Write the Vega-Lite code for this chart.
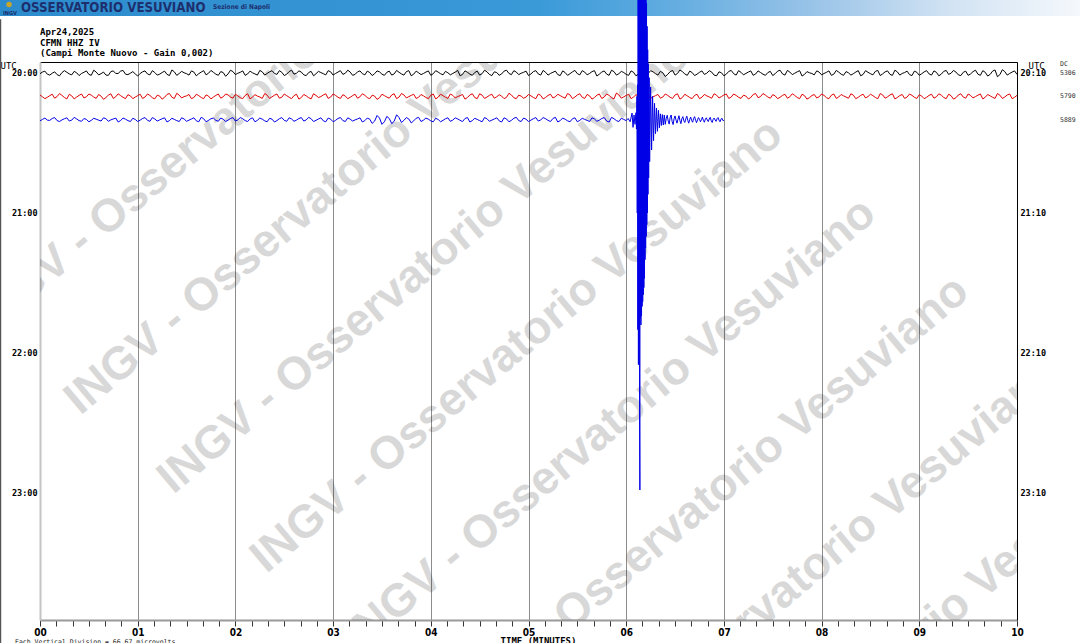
{
"$schema":"https://vega.github.io/schema/vega-lite/v6.json",
"width":977,"height":558,
"autosize":{"type":"none"},
"padding":{"left":40,"top":62,"right":63,"bottom":23},
"background":"#ffffff",
"config":{"view":{"stroke":null}},
"resolve":{"axis":{"x":"independent","y":"independent"}},
"datasets":{
"k":[{"t":0,"y":0.3},{"t":0.025,"y":-0.4},{"t":0.05,"y":-0.8},{"t":0.075,"y":0.5},{"t":0.1,"y":0.9},{"t":0.125,"y":0.1},{"t":0.15,"y":-0.5},{"t":0.175,"y":0.7},{"t":0.2,"y":1.2},{"t":0.225,"y":-0.2},{"t":0.25,"y":-1.0},{"t":0.275,"y":-0.3},{"t":0.3,"y":0.4},{"t":0.325,"y":0.8},{"t":0.35,"y":-0.7},{"t":0.375,"y":-0.1},{"t":0.4,"y":1.1},{"t":0.425,"y":0.2},{"t":0.45,"y":-0.3},{"t":0.475,"y":-0.9},{"t":0.5,"y":0.6},{"t":0.525,"y":1.0},{"t":0.55,"y":-1.2},{"t":0.575,"y":-0.4},{"t":0.6,"y":0.8},{"t":0.625,"y":0.3},{"t":0.65,"y":-0.4},{"t":0.675,"y":0.9},{"t":0.7,"y":1.0},{"t":0.725,"y":-0.6},{"t":0.75,"y":-0.9},{"t":0.775,"y":0.2},{"t":0.8,"y":0.2},{"t":0.825,"y":-0.8},{"t":0.85,"y":-1.1},{"t":0.875,"y":0.5},{"t":0.9,"y":0.7},{"t":0.925,"y":0.1},{"t":0.95,"y":-0.6},{"t":0.975,"y":0.4},
{"t":1,"y":1.3},{"t":1.025,"y":0.2},{"t":1.05,"y":-0.5},{"t":1.075,"y":-0.9},{"t":1.1,"y":0.4},{"t":1.125,"y":0.8},{"t":1.15,"y":-1.0},{"t":1.175,"y":-0.2},{"t":1.2,"y":0.9},{"t":1.225,"y":0.5},{"t":1.25,"y":-0.2},{"t":1.275,"y":-0.8},{"t":1.3,"y":0.6},{"t":1.325,"y":1.1},{"t":1.35,"y":-1.3},{"t":1.375,"y":-0.5},{"t":1.4,"y":1.0},{"t":1.425,"y":0.2},{"t":1.45,"y":-0.7},{"t":1.475,"y":-0.1},{"t":1.5,"y":0.3},{"t":1.525,"y":0.9},{"t":1.55,"y":-0.9},{"t":1.575,"y":-0.4},{"t":1.6,"y":1.2},{"t":1.625,"y":0.3},{"t":1.65,"y":-0.4},{"t":1.675,"y":-1.0},{"t":1.7,"y":0.8},{"t":1.725,"y":0.1},{"t":1.75,"y":-1.1},{"t":1.775,"y":-0.3},{"t":1.8,"y":0.5},{"t":1.825,"y":1.0},{"t":1.85,"y":-0.6},{"t":1.875,"y":-0.2},{"t":1.9,"y":1.4},{"t":1.925,"y":0.4},{"t":1.95,"y":-1.2},{"t":1.975,"y":-0.6},
{"t":2,"y":0.7},{"t":2.025,"y":0.1},{"t":2.05,"y":-0.3},{"t":2.075,"y":-0.9},{"t":2.1,"y":1.0},{"t":2.125,"y":0.4},{"t":2.15,"y":-0.8},{"t":2.175,"y":-0.1},{"t":2.2,"y":0.4},{"t":2.225,"y":0.9},{"t":2.25,"y":-1.1},{"t":2.275,"y":-0.5},{"t":2.3,"y":0.9},{"t":2.325,"y":0.2},{"t":2.35,"y":-0.5},{"t":2.375,"y":-1.0},{"t":2.4,"y":0.2},{"t":2.425,"y":0.6},{"t":2.45,"y":-1.0},{"t":2.475,"y":-0.3},{"t":2.5,"y":1.1},{"t":2.525,"y":0.5},{"t":2.55,"y":-0.6},{"t":2.575,"y":-1.2},{"t":2.6,"y":0.5},{"t":2.625,"y":0.1},{"t":2.65,"y":-0.9},{"t":2.675,"y":-0.4},{"t":2.7,"y":0.8},{"t":2.725,"y":1.1},{"t":2.75,"y":-0.2},{"t":2.775,"y":-0.7},{"t":2.8,"y":1.2},{"t":2.825,"y":0.3},{"t":2.85,"y":-0.7},{"t":2.875,"y":-0.2},{"t":2.9,"y":0.3},{"t":2.925,"y":0.8},{"t":2.95,"y":-1.0},{"t":2.975,"y":-0.5},
{"t":3,"y":0.9},{"t":3.025,"y":0.2},{"t":3.05,"y":-0.4},{"t":3.075,"y":-1.0},{"t":3.1,"y":0.6},{"t":3.125,"y":0.1},{"t":3.15,"y":-1.2},{"t":3.175,"y":-0.4},{"t":3.2,"y":1.0},{"t":3.225,"y":0.6},{"t":3.25,"y":-0.5},{"t":3.275,"y":-0.9},{"t":3.3,"y":0.3},{"t":3.325,"y":0.8},{"t":3.35,"y":-0.8},{"t":3.375,"y":-0.2},{"t":3.4,"y":1.1},{"t":3.425,"y":0.3},{"t":3.45,"y":-0.9},{"t":3.475,"y":-0.5},{"t":3.5,"y":0.5},{"t":3.525,"y":1.0},{"t":3.55,"y":-0.3},{"t":3.575,"y":-0.8},{"t":3.6,"y":0.9},{"t":3.625,"y":0.4},{"t":3.65,"y":-1.1},{"t":3.675,"y":-0.3},{"t":3.7,"y":0.4},{"t":3.725,"y":0.9},{"t":3.75,"y":-0.6},{"t":3.775,"y":-1.0},{"t":3.8,"y":1.2},{"t":3.825,"y":0.5},{"t":3.85,"y":-0.8},{"t":3.875,"y":-0.1},{"t":3.9,"y":0.7},{"t":3.925,"y":0.2},{"t":3.95,"y":-0.4},{"t":3.975,"y":-0.9},
{"t":4,"y":1.0},{"t":4.025,"y":0.3},{"t":4.05,"y":-1.0},{"t":4.075,"y":-0.4},{"t":4.1,"y":0.3},{"t":4.125,"y":0.8},{"t":4.15,"y":-0.7},{"t":4.175,"y":-0.1},{"t":4.2,"y":0.8},{"t":4.225,"y":0.2},{"t":4.25,"y":-0.4},{"t":4.275,"y":-1.1},{"t":4.3,"y":1.2},{"t":4.325,"y":0.6},{"t":4.35,"y":-0.9},{"t":4.375,"y":-0.3},{"t":4.4,"y":0.5},{"t":4.425,"y":1.0},{"t":4.45,"y":-0.2},{"t":4.475,"y":-0.8},{"t":4.5,"y":0.9},{"t":4.525,"y":0.3},{"t":4.55,"y":-1.2},{"t":4.575,"y":-0.5},{"t":4.6,"y":0.6},{"t":4.625,"y":1.1},{"t":4.65,"y":-0.5},{"t":4.675,"y":-0.2},{"t":4.7,"y":1.0},{"t":4.725,"y":0.4},{"t":4.75,"y":-0.8},{"t":4.775,"y":-1.2},{"t":4.8,"y":0.2},{"t":4.825,"y":0.7},{"t":4.85,"y":-1.0},{"t":4.875,"y":-0.4},{"t":4.9,"y":0.7},{"t":4.925,"y":0.1},{"t":4.95,"y":-0.3},{"t":4.975,"y":-0.8},
{"t":5,"y":1.1},{"t":5.025,"y":0.4},{"t":5.05,"y":-0.6},{"t":5.075,"y":-1.0},{"t":5.1,"y":0.4},{"t":5.125,"y":0.9},{"t":5.15,"y":-1.1},{"t":5.175,"y":-0.3},{"t":5.2,"y":0.9},{"t":5.225,"y":0.2},{"t":5.25,"y":-0.3},{"t":5.275,"y":-0.8},{"t":5.3,"y":0.7},{"t":5.325,"y":1.1},{"t":5.35,"y":-0.9},{"t":5.375,"y":-0.2},{"t":5.4,"y":1.0},{"t":5.425,"y":0.3},{"t":5.45,"y":-0.5},{"t":5.475,"y":-1.1},{"t":5.5,"y":0.3},{"t":5.525,"y":0.8},{"t":5.55,"y":-1.0},{"t":5.575,"y":-0.4},{"t":5.6,"y":0.8},{"t":5.625,"y":0.2},{"t":5.65,"y":-0.6},{"t":5.675,"y":-1.0},{"t":5.7,"y":1.3},{"t":5.725,"y":0.5},{"t":5.75,"y":-0.4},{"t":5.775,"y":-0.9},{"t":5.8,"y":0.5},{"t":5.825,"y":1.0},{"t":5.85,"y":-1.2},{"t":5.875,"y":-0.6},{"t":5.9,"y":0.9},{"t":5.925,"y":0.3},{"t":5.95,"y":-0.7},{"t":5.975,"y":-0.2},
{"t":6,"y":0.6},{"t":6.025,"y":1.0},{"t":6.05,"y":-0.9},{"t":6.075,"y":-0.3},{"t":6.1,"y":1.2},{"t":6.125,"y":0.4},{"t":6.15,"y":-0.4},{"t":6.175,"y":-1.0},{"t":6.2,"y":0.8},{"t":6.225,"y":0.2},{"t":6.25,"y":-1.0},{"t":6.275,"y":-0.5},{"t":6.3,"y":0.3},{"t":6.325,"y":0.9},{"t":6.35,"y":-0.7},{"t":6.375,"y":-0.1},{"t":6.4,"y":1.5},{"t":6.425,"y":0.6},{"t":6.45,"y":-0.6},{"t":6.475,"y":-1.1},{"t":6.5,"y":0.9},{"t":6.525,"y":0.2},{"t":6.55,"y":-1.3},{"t":6.575,"y":-0.6},{"t":6.6,"y":0.4},{"t":6.625,"y":1.0},{"t":6.65,"y":-0.8},{"t":6.675,"y":-0.2},{"t":6.7,"y":1.1},{"t":6.725,"y":0.5},{"t":6.75,"y":-0.3},{"t":6.775,"y":-0.9},{"t":6.8,"y":0.6},{"t":6.825,"y":0.1},{"t":6.85,"y":-1.0},{"t":6.875,"y":-0.4},{"t":6.9,"y":0.9},{"t":6.925,"y":1.2},{"t":6.95,"y":-0.5},{"t":6.975,"y":-0.1},
{"t":7,"y":1.2},{"t":7.025,"y":0.5},{"t":7.05,"y":-0.7},{"t":7.075,"y":-1.1},{"t":7.1,"y":0.3},{"t":7.125,"y":0.9},{"t":7.15,"y":-1.0},{"t":7.175,"y":-0.3},{"t":7.2,"y":0.8},{"t":7.225,"y":0.2},{"t":7.25,"y":-0.4},{"t":7.275,"y":-0.9},{"t":7.3,"y":1.0},{"t":7.325,"y":0.4},{"t":7.35,"y":-0.9},{"t":7.375,"y":-0.2},{"t":7.4,"y":0.5},{"t":7.425,"y":1.0},{"t":7.45,"y":-0.2},{"t":7.475,"y":-0.7},{"t":7.5,"y":1.1},{"t":7.525,"y":0.3},{"t":7.55,"y":-0.8},{"t":7.575,"y":-1.2},{"t":7.6,"y":0.4},{"t":7.625,"y":0.9},{"t":7.65,"y":-1.1},{"t":7.675,"y":-0.4},{"t":7.7,"y":0.7},{"t":7.725,"y":0.1},{"t":7.75,"y":-0.5},{"t":7.775,"y":-1.0},{"t":7.8,"y":1.3},{"t":7.825,"y":0.6},{"t":7.85,"y":-0.6},{"t":7.875,"y":-0.1},{"t":7.9,"y":0.2},{"t":7.925,"y":0.8},{"t":7.95,"y":-0.9},{"t":7.975,"y":-0.4},
{"t":8,"y":0.8},{"t":8.025,"y":0.2},{"t":8.05,"y":-0.3},{"t":8.075,"y":-0.9},{"t":8.1,"y":1.0},{"t":8.125,"y":0.5},{"t":8.15,"y":-1.1},{"t":8.175,"y":-0.4},{"t":8.2,"y":0.5},{"t":8.225,"y":1.0},{"t":8.25,"y":-0.6},{"t":8.275,"y":-0.1},{"t":8.3,"y":0.9},{"t":8.325,"y":0.3},{"t":8.35,"y":-0.4},{"t":8.375,"y":-1.0},{"t":8.4,"y":1.2},{"t":8.425,"y":0.6},{"t":8.45,"y":-1.0},{"t":8.475,"y":-0.3},{"t":8.5,"y":0.3},{"t":8.525,"y":0.8},{"t":8.55,"y":-0.7},{"t":8.575,"y":-1.1},{"t":8.6,"y":1.1},{"t":8.625,"y":0.4},{"t":8.65,"y":-0.5},{"t":8.675,"y":-0.9},{"t":8.7,"y":0.6},{"t":8.725,"y":1.0},{"t":8.75,"y":-1.2},{"t":8.775,"y":-0.5},{"t":8.8,"y":0.9},{"t":8.825,"y":0.2},{"t":8.85,"y":-0.2},{"t":8.875,"y":-0.8},{"t":8.9,"y":0.7},{"t":8.925,"y":1.1},{"t":8.95,"y":-0.8},{"t":8.975,"y":-0.3},
{"t":9,"y":1.0},{"t":9.025,"y":0.3},{"t":9.05,"y":-0.5},{"t":9.075,"y":-1.0},{"t":9.1,"y":0.4},{"t":9.125,"y":0.9},{"t":9.15,"y":-0.9},{"t":9.175,"y":-0.3},{"t":9.2,"y":1.2},{"t":9.225,"y":0.5},{"t":9.25,"y":-0.7},{"t":9.275,"y":-1.1},{"t":9.3,"y":0.6},{"t":9.325,"y":0.1},{"t":9.35,"y":-1.1},{"t":9.375,"y":-0.4},{"t":9.4,"y":0.8},{"t":9.425,"y":1.1},{"t":9.45,"y":-0.3},{"t":9.475,"y":-0.8},{"t":9.5,"y":1.0},{"t":9.525,"y":0.4},{"t":9.55,"y":-0.6},{"t":9.575,"y":-1.2},{"t":9.6,"y":0.5},{"t":9.625,"y":1.0},{"t":9.65,"y":-1.0},{"t":9.675,"y":-0.3},{"t":9.7,"y":1.3},{"t":9.725,"y":0.6},{"t":9.75,"y":-0.8},{"t":9.775,"y":-1.3},{"t":9.8,"y":1.6},{"t":9.825,"y":0.7},{"t":9.85,"y":-1.4},{"t":9.875,"y":-0.6},{"t":9.9,"y":0.9},{"t":9.925,"y":0.2},{"t":9.95,"y":-0.4},{"t":9.975,"y":-0.9},{"t":10,"y":0.6}],
"r":[{"t":0,"y":9.4},{"t":0.025,"y":10.2},{"t":0.05,"y":11.0},{"t":0.075,"y":10.4},{"t":0.1,"y":9.7},{"t":0.125,"y":9.1},{"t":0.15,"y":10.8},{"t":0.175,"y":10.1},{"t":0.2,"y":8.8},{"t":0.225,"y":9.6},{"t":0.25,"y":10.5},{"t":0.275,"y":11.1},{"t":0.3,"y":9.1},{"t":0.325,"y":9.8},{"t":0.35,"y":11.1},{"t":0.375,"y":10.3},{"t":0.4,"y":9.6},{"t":0.425,"y":9.0},{"t":0.45,"y":10.7},{"t":0.475,"y":10.2},{"t":0.5,"y":9.0},{"t":0.525,"y":9.5},{"t":0.55,"y":10.3},{"t":0.575,"y":10.9},{"t":0.6,"y":9.2},{"t":0.625,"y":9.9},{"t":0.65,"y":11.3},{"t":0.675,"y":10.5},{"t":0.7,"y":9.5},{"t":0.725,"y":8.9},{"t":0.75,"y":10.9},{"t":0.775,"y":10.2},{"t":0.8,"y":8.9},{"t":0.825,"y":9.7},{"t":0.85,"y":10.4},{"t":0.875,"y":11.0},{"t":0.9,"y":9.3},{"t":0.925,"y":9.8},{"t":0.95,"y":11.0},{"t":0.975,"y":10.3},
{"t":1,"y":9.7},{"t":1.025,"y":9.1},{"t":1.05,"y":10.9},{"t":1.075,"y":10.3},{"t":1.1,"y":9.0},{"t":1.125,"y":9.6},{"t":1.15,"y":10.6},{"t":1.175,"y":11.1},{"t":1.2,"y":9.5},{"t":1.225,"y":9.9},{"t":1.25,"y":11.2},{"t":1.275,"y":10.4},{"t":1.3,"y":9.2},{"t":1.325,"y":8.8},{"t":1.35,"y":10.4},{"t":1.375,"y":10.9},{"t":1.4,"y":8.7},{"t":1.425,"y":9.5},{"t":1.45,"y":10.7},{"t":1.475,"y":10.1},{"t":1.5,"y":9.8},{"t":1.525,"y":9.2},{"t":1.55,"y":11.0},{"t":1.575,"y":10.5},{"t":1.6,"y":9.1},{"t":1.625,"y":9.7},{"t":1.65,"y":10.5},{"t":1.675,"y":11.0},{"t":1.7,"y":9.4},{"t":1.725,"y":9.9},{"t":1.75,"y":11.1},{"t":1.775,"y":10.3},{"t":1.8,"y":9.6},{"t":1.825,"y":9.0},{"t":1.85,"y":10.8},{"t":1.875,"y":10.2},{"t":1.9,"y":9.0},{"t":1.925,"y":9.4},{"t":1.95,"y":10.3},{"t":1.975,"y":10.8},
{"t":2,"y":9.1},{"t":2.025,"y":9.8},{"t":2.05,"y":10.6},{"t":2.075,"y":11.0},{"t":2.1,"y":9.6},{"t":2.125,"y":8.9},{"t":2.15,"y":11.1},{"t":2.175,"y":10.3},{"t":2.2,"y":9.3},{"t":2.225,"y":9.9},{"t":2.25,"y":10.3},{"t":2.275,"y":10.9},{"t":2.3,"y":8.8},{"t":2.325,"y":9.5},{"t":2.35,"y":10.9},{"t":2.375,"y":10.2},{"t":2.4,"y":9.5},{"t":2.425,"y":9.0},{"t":2.45,"y":10.8},{"t":2.475,"y":10.4},{"t":2.5,"y":9.0},{"t":2.525,"y":9.7},{"t":2.55,"y":10.4},{"t":2.575,"y":11.0},{"t":2.6,"y":9.7},{"t":2.625,"y":9.1},{"t":2.65,"y":11.2},{"t":2.675,"y":10.5},{"t":2.7,"y":9.2},{"t":2.725,"y":9.8},{"t":2.75,"y":10.6},{"t":2.775,"y":11.1},{"t":2.8,"y":8.9},{"t":2.825,"y":9.6},{"t":2.85,"y":10.5},{"t":2.875,"y":10.1},{"t":2.9,"y":9.4},{"t":2.925,"y":8.9},{"t":2.95,"y":10.9},{"t":2.975,"y":10.3},
{"t":3,"y":9.0},{"t":3.025,"y":9.6},{"t":3.05,"y":10.4},{"t":3.075,"y":10.9},{"t":3.1,"y":9.3},{"t":3.125,"y":9.9},{"t":3.15,"y":11.0},{"t":3.175,"y":10.4},{"t":3.2,"y":9.7},{"t":3.225,"y":9.1},{"t":3.25,"y":10.8},{"t":3.275,"y":10.2},{"t":3.3,"y":8.9},{"t":3.325,"y":9.5},{"t":3.35,"y":10.6},{"t":3.375,"y":11.0},{"t":3.4,"y":9.5},{"t":3.425,"y":9.9},{"t":3.45,"y":11.3},{"t":3.475,"y":10.6},{"t":3.5,"y":9.1},{"t":3.525,"y":9.7},{"t":3.55,"y":10.3},{"t":3.575,"y":10.8},{"t":3.6,"y":9.4},{"t":3.625,"y":8.9},{"t":3.65,"y":11.0},{"t":3.675,"y":10.3},{"t":3.7,"y":8.8},{"t":3.725,"y":9.4},{"t":3.75,"y":10.7},{"t":3.775,"y":10.1},{"t":3.8,"y":9.6},{"t":3.825,"y":9.1},{"t":3.85,"y":10.9},{"t":3.875,"y":10.4},{"t":3.9,"y":9.2},{"t":3.925,"y":9.8},{"t":3.95,"y":10.5},{"t":3.975,"y":11.0},
{"t":4,"y":9.5},{"t":4.025,"y":9.0},{"t":4.05,"y":11.1},{"t":4.075,"y":10.4},{"t":4.1,"y":9.1},{"t":4.125,"y":9.7},{"t":4.15,"y":10.4},{"t":4.175,"y":10.9},{"t":4.2,"y":9.0},{"t":4.225,"y":9.6},{"t":4.25,"y":10.7},{"t":4.275,"y":10.1},{"t":4.3,"y":9.7},{"t":4.325,"y":9.2},{"t":4.35,"y":11.2},{"t":4.375,"y":10.5},{"t":4.4,"y":9.4},{"t":4.425,"y":8.9},{"t":4.45,"y":10.5},{"t":4.475,"y":11.0},{"t":4.5,"y":8.9},{"t":4.525,"y":9.5},{"t":4.55,"y":10.9},{"t":4.575,"y":10.3},{"t":4.6,"y":9.6},{"t":4.625,"y":9.1},{"t":4.65,"y":10.8},{"t":4.675,"y":10.2},{"t":4.7,"y":9.3},{"t":4.725,"y":9.9},{"t":4.75,"y":11.0},{"t":4.775,"y":10.4},{"t":4.8,"y":8.7},{"t":4.825,"y":9.4},{"t":4.85,"y":10.6},{"t":4.875,"y":11.0},{"t":4.9,"y":9.5},{"t":4.925,"y":9.9},{"t":4.95,"y":10.8},{"t":4.975,"y":10.3},
{"t":5,"y":9.2},{"t":5.025,"y":9.8},{"t":5.05,"y":10.5},{"t":5.075,"y":11.0},{"t":5.1,"y":9.0},{"t":5.125,"y":9.6},{"t":5.15,"y":11.1},{"t":5.175,"y":10.5},{"t":5.2,"y":9.6},{"t":5.225,"y":9.1},{"t":5.25,"y":10.7},{"t":5.275,"y":10.2},{"t":5.3,"y":9.1},{"t":5.325,"y":9.7},{"t":5.35,"y":10.3},{"t":5.375,"y":10.8},{"t":5.4,"y":8.8},{"t":5.425,"y":9.4},{"t":5.45,"y":11.0},{"t":5.475,"y":10.3},{"t":5.5,"y":9.4},{"t":5.525,"y":8.9},{"t":5.55,"y":10.4},{"t":5.575,"y":10.9},{"t":5.6,"y":9.2},{"t":5.625,"y":9.8},{"t":5.65,"y":11.2},{"t":5.675,"y":10.5},{"t":5.7,"y":9.5},{"t":5.725,"y":9.0},{"t":5.75,"y":10.9},{"t":5.775,"y":10.3},{"t":5.8,"y":9.0},{"t":5.825,"y":9.6},{"t":5.85,"y":10.6},{"t":5.875,"y":11.1},{"t":5.9,"y":8.6},{"t":5.925,"y":9.4},{"t":5.95,"y":10.8},{"t":5.975,"y":10.2},
{"t":6,"y":9.6},{"t":6.025,"y":9.1},{"t":6.05,"y":11.0},{"t":6.075,"y":10.3},{"t":6.1,"y":9.3},{"t":6.125,"y":9.9},{"t":6.15,"y":10.5},{"t":6.175,"y":11.0},{"t":6.2,"y":8.9},{"t":6.225,"y":9.5},{"t":6.25,"y":10.9},{"t":6.275,"y":10.2},{"t":6.3,"y":9.7},{"t":6.325,"y":9.2},{"t":6.35,"y":10.8},{"t":6.375,"y":10.3},{"t":6.4,"y":9.0},{"t":6.425,"y":9.6},{"t":6.45,"y":10.4},{"t":6.475,"y":10.9},{"t":6.5,"y":9.4},{"t":6.525,"y":8.9},{"t":6.55,"y":11.2},{"t":6.575,"y":10.5},{"t":6.6,"y":9.1},{"t":6.625,"y":9.8},{"t":6.65,"y":10.5},{"t":6.675,"y":11.0},{"t":6.7,"y":9.6},{"t":6.725,"y":9.1},{"t":6.75,"y":11.0},{"t":6.775,"y":10.4},{"t":6.8,"y":9.2},{"t":6.825,"y":9.8},{"t":6.85,"y":10.3},{"t":6.875,"y":10.8},{"t":6.9,"y":8.9},{"t":6.925,"y":9.5},{"t":6.95,"y":10.7},{"t":6.975,"y":10.1},
{"t":7,"y":9.4},{"t":7.025,"y":9.0},{"t":7.05,"y":10.9},{"t":7.075,"y":10.3},{"t":7.1,"y":9.0},{"t":7.125,"y":9.6},{"t":7.15,"y":10.4},{"t":7.175,"y":10.9},{"t":7.2,"y":9.5},{"t":7.225,"y":9.9},{"t":7.25,"y":11.1},{"t":7.275,"y":10.5},{"t":7.3,"y":9.2},{"t":7.325,"y":8.8},{"t":7.35,"y":10.6},{"t":7.375,"y":10.1},{"t":7.4,"y":8.8},{"t":7.425,"y":9.5},{"t":7.45,"y":10.3},{"t":7.475,"y":10.8},{"t":7.5,"y":9.3},{"t":7.525,"y":9.8},{"t":7.55,"y":11.0},{"t":7.575,"y":10.4},{"t":7.6,"y":9.6},{"t":7.625,"y":9.1},{"t":7.65,"y":10.8},{"t":7.675,"y":10.2},{"t":7.7,"y":8.9},{"t":7.725,"y":9.6},{"t":7.75,"y":10.5},{"t":7.775,"y":11.0},{"t":7.8,"y":9.1},{"t":7.825,"y":9.7},{"t":7.85,"y":11.2},{"t":7.875,"y":10.6},{"t":7.9,"y":9.7},{"t":7.925,"y":9.2},{"t":7.95,"y":10.7},{"t":7.975,"y":10.2},
{"t":8,"y":9.0},{"t":8.025,"y":9.6},{"t":8.05,"y":10.6},{"t":8.075,"y":11.0},{"t":8.1,"y":9.5},{"t":8.125,"y":9.0},{"t":8.15,"y":10.9},{"t":8.175,"y":10.3},{"t":8.2,"y":9.2},{"t":8.225,"y":9.8},{"t":8.25,"y":10.3},{"t":8.275,"y":10.8},{"t":8.3,"y":8.9},{"t":8.325,"y":9.5},{"t":8.35,"y":11.0},{"t":8.375,"y":10.4},{"t":8.4,"y":9.6},{"t":8.425,"y":9.1},{"t":8.45,"y":10.7},{"t":8.475,"y":10.1},{"t":8.5,"y":9.1},{"t":8.525,"y":9.7},{"t":8.55,"y":10.5},{"t":8.575,"y":11.0},{"t":8.6,"y":8.8},{"t":8.625,"y":9.4},{"t":8.65,"y":10.8},{"t":8.675,"y":10.2},{"t":8.7,"y":9.4},{"t":8.725,"y":8.9},{"t":8.75,"y":11.1},{"t":8.775,"y":10.5},{"t":8.8,"y":9.7},{"t":8.825,"y":9.2},{"t":8.85,"y":10.9},{"t":8.875,"y":10.3},{"t":8.9,"y":9.0},{"t":8.925,"y":9.6},{"t":8.95,"y":10.4},{"t":8.975,"y":10.9},
{"t":9,"y":9.3},{"t":9.025,"y":9.9},{"t":9.05,"y":11.0},{"t":9.075,"y":10.4},{"t":9.1,"y":9.6},{"t":9.125,"y":9.1},{"t":9.15,"y":10.8},{"t":9.175,"y":10.2},{"t":9.2,"y":8.9},{"t":9.225,"y":9.5},{"t":9.25,"y":10.5},{"t":9.275,"y":11.0},{"t":9.3,"y":9.1},{"t":9.325,"y":9.7},{"t":9.35,"y":11.2},{"t":9.375,"y":10.6},{"t":9.4,"y":9.4},{"t":9.425,"y":8.9},{"t":9.45,"y":10.3},{"t":9.475,"y":10.8},{"t":9.5,"y":9.0},{"t":9.525,"y":9.6},{"t":9.55,"y":10.7},{"t":9.575,"y":10.1},{"t":9.6,"y":9.5},{"t":9.625,"y":9.0},{"t":9.65,"y":11.1},{"t":9.675,"y":10.4},{"t":9.7,"y":9.2},{"t":9.725,"y":9.8},{"t":9.75,"y":10.4},{"t":9.775,"y":10.9},{"t":9.8,"y":8.8},{"t":9.825,"y":9.5},{"t":9.85,"y":10.9},{"t":9.875,"y":10.3},{"t":9.9,"y":9.4},{"t":9.925,"y":9.0},{"t":9.95,"y":11.0},{"t":9.975,"y":10.4},{"t":10,"y":9.6}],
"b":[{"t":0,"y":20.5},{"t":0.025,"y":19.9},{"t":0.05,"y":19.3},{"t":0.075,"y":20.2},{"t":0.1,"y":20.3},{"t":0.125,"y":19.5},{"t":0.15,"y":19.1},{"t":0.175,"y":20.4},{"t":0.2,"y":20.8},{"t":0.225,"y":20.1},{"t":0.25,"y":19.6},{"t":0.275,"y":19.2},{"t":0.3,"y":20.6},{"t":0.325,"y":20.2},{"t":0.35,"y":19.0},{"t":0.375,"y":19.7},{"t":0.4,"y":20.4},{"t":0.425,"y":20.7},{"t":0.45,"y":19.5},{"t":0.475,"y":19.9},{"t":0.5,"y":20.9},{"t":0.525,"y":20.3},{"t":0.55,"y":19.4},{"t":0.575,"y":19.8},{"t":0.6,"y":20.2},{"t":0.625,"y":20.6},{"t":0.65,"y":19.2},{"t":0.675,"y":19.6},{"t":0.7,"y":20.7},{"t":0.725,"y":20.1},{"t":0.75,"y":19.7},{"t":0.775,"y":19.3},{"t":0.8,"y":21.0},{"t":0.825,"y":20.4},{"t":0.85,"y":19.3},{"t":0.875,"y":19.8},{"t":0.9,"y":20.4},{"t":0.925,"y":20.8},{"t":0.95,"y":19.4},{"t":0.975,"y":19.9},
{"t":1,"y":20.8},{"t":1.025,"y":20.2},{"t":1.05,"y":19.5},{"t":1.075,"y":19.1},{"t":1.1,"y":20.3},{"t":1.125,"y":20.7},{"t":1.15,"y":19.1},{"t":1.175,"y":19.7},{"t":1.2,"y":20.6},{"t":1.225,"y":20.1},{"t":1.25,"y":19.6},{"t":1.275,"y":19.2},{"t":1.3,"y":21.0},{"t":1.325,"y":20.4},{"t":1.35,"y":19.4},{"t":1.375,"y":19.9},{"t":1.4,"y":20.4},{"t":1.425,"y":20.8},{"t":1.45,"y":19.2},{"t":1.475,"y":19.7},{"t":1.5,"y":20.7},{"t":1.525,"y":20.2},{"t":1.55,"y":19.7},{"t":1.575,"y":19.2},{"t":1.6,"y":20.5},{"t":1.625,"y":20.9},{"t":1.65,"y":19.0},{"t":1.675,"y":19.6},{"t":1.7,"y":20.9},{"t":1.725,"y":20.3},{"t":1.75,"y":19.6},{"t":1.775,"y":19.3},{"t":1.8,"y":20.3},{"t":1.825,"y":20.7},{"t":1.85,"y":19.3},{"t":1.875,"y":19.8},{"t":1.9,"y":20.8},{"t":1.925,"y":20.2},{"t":1.95,"y":19.5},{"t":1.975,"y":19.1},
{"t":2,"y":20.6},{"t":2.025,"y":20.1},{"t":2.05,"y":19.1},{"t":2.075,"y":19.6},{"t":2.1,"y":20.4},{"t":2.125,"y":20.8},{"t":2.15,"y":19.7},{"t":2.175,"y":19.2},{"t":2.2,"y":20.9},{"t":2.225,"y":20.3},{"t":2.25,"y":19.3},{"t":2.275,"y":19.8},{"t":2.3,"y":20.5},{"t":2.325,"y":20.9},{"t":2.35,"y":19.4},{"t":2.375,"y":19.8},{"t":2.4,"y":21.0},{"t":2.425,"y":20.4},{"t":2.45,"y":19.6},{"t":2.475,"y":19.1},{"t":2.5,"y":20.3},{"t":2.525,"y":20.7},{"t":2.55,"y":19.2},{"t":2.575,"y":19.7},{"t":2.6,"y":20.7},{"t":2.625,"y":20.2},{"t":2.65,"y":19.5},{"t":2.675,"y":19.1},{"t":2.7,"y":20.6},{"t":2.725,"y":20.1},{"t":2.75,"y":19.0},{"t":2.775,"y":19.6},{"t":2.8,"y":20.8},{"t":2.825,"y":20.3},{"t":2.85,"y":19.7},{"t":2.875,"y":19.2},{"t":2.9,"y":20.5},{"t":2.925,"y":20.9},{"t":2.95,"y":19.3},{"t":2.975,"y":19.8},
{"t":3,"y":20.9},{"t":3.025,"y":20.3},{"t":3.05,"y":19.5},{"t":3.075,"y":19.1},{"t":3.1,"y":20.4},{"t":3.125,"y":20.8},{"t":3.15,"y":19.2},{"t":3.175,"y":19.8},{"t":3.2,"y":20.6},{"t":3.225,"y":20.1},{"t":3.25,"y":19.7},{"t":3.275,"y":19.2},{"t":3.3,"y":21.0},{"t":3.325,"y":20.4},{"t":3.35,"y":19.3},{"t":3.375,"y":19.8},{"t":3.4,"y":21.6},{"t":3.425,"y":20.6},{"t":3.45,"y":18.2},{"t":3.475,"y":19.3},{"t":3.5,"y":22.0},{"t":3.525,"y":20.9},{"t":3.55,"y":18.6},{"t":3.575,"y":19.5},{"t":3.6,"y":21.7},{"t":3.625,"y":20.7},{"t":3.65,"y":17.9},{"t":3.675,"y":19.1},{"t":3.7,"y":21.2},{"t":3.725,"y":20.3},{"t":3.75,"y":19.1},{"t":3.775,"y":19.7},{"t":3.8,"y":21.4},{"t":3.825,"y":20.5},{"t":3.85,"y":19.4},{"t":3.875,"y":19.0},{"t":3.9,"y":20.8},{"t":3.925,"y":20.2},{"t":3.95,"y":19.3},{"t":3.975,"y":19.8},
{"t":4,"y":20.5},{"t":4.025,"y":20.9},{"t":4.05,"y":19.4},{"t":4.075,"y":19.9},{"t":4.1,"y":20.9},{"t":4.125,"y":20.3},{"t":4.15,"y":19.6},{"t":4.175,"y":19.2},{"t":4.2,"y":20.7},{"t":4.225,"y":20.2},{"t":4.25,"y":19.2},{"t":4.275,"y":19.7},{"t":4.3,"y":20.3},{"t":4.325,"y":20.8},{"t":4.35,"y":19.5},{"t":4.375,"y":19.1},{"t":4.4,"y":21.0},{"t":4.425,"y":20.4},{"t":4.45,"y":19.4},{"t":4.475,"y":19.9},{"t":4.5,"y":20.4},{"t":4.525,"y":20.9},{"t":4.55,"y":19.1},{"t":4.575,"y":19.6},{"t":4.6,"y":20.7},{"t":4.625,"y":20.2},{"t":4.65,"y":19.7},{"t":4.675,"y":19.2},{"t":4.7,"y":20.5},{"t":4.725,"y":21.0},{"t":4.75,"y":19.2},{"t":4.775,"y":19.7},{"t":4.8,"y":20.9},{"t":4.825,"y":20.3},{"t":4.85,"y":19.4},{"t":4.875,"y":19.0},{"t":4.9,"y":20.4},{"t":4.925,"y":20.8},{"t":4.95,"y":19.3},{"t":4.975,"y":19.8},
{"t":5,"y":20.8},{"t":5.025,"y":20.2},{"t":5.05,"y":19.6},{"t":5.075,"y":19.1},{"t":5.1,"y":20.6},{"t":5.125,"y":20.1},{"t":5.15,"y":19.1},{"t":5.175,"y":19.6},{"t":5.2,"y":20.3},{"t":5.225,"y":20.8},{"t":5.25,"y":19.5},{"t":5.275,"y":19.0},{"t":5.3,"y":21.0},{"t":5.325,"y":20.4},{"t":5.35,"y":19.3},{"t":5.375,"y":19.8},{"t":5.4,"y":20.5},{"t":5.425,"y":20.9},{"t":5.45,"y":19.6},{"t":5.475,"y":19.2},{"t":5.5,"y":20.9},{"t":5.525,"y":20.3},{"t":5.55,"y":19.4},{"t":5.575,"y":19.9},{"t":5.6,"y":20.3},{"t":5.625,"y":20.8},{"t":5.65,"y":19.2},{"t":5.675,"y":19.7},{"t":5.7,"y":20.7},{"t":5.725,"y":20.2},{"t":5.75,"y":19.5},{"t":5.775,"y":19.1},{"t":5.8,"y":20.6},{"t":5.825,"y":21.0},{"t":5.85,"y":19.0},{"t":5.875,"y":19.6},{"t":5.9,"y":20.4},{"t":5.925,"y":20.8},{"t":5.95,"y":19.4},{"t":5.975,"y":19.9},
{"t":6,"y":20.4},{"t":6.02,"y":19.5},{"t":6.04,"y":20.9},{"t":6.06,"y":17.2},{"t":6.07,"y":23.3},{"t":6.08,"y":18.0},{"t":6.09,"y":22.0},{"t":6.1,"y":17.0},{"t":6.105,"y":24.0},{"t":6.11,"y":10},{"t":6.113,"y":60},{"t":6.116,"y":5},{"t":6.119,"y":110},{"t":6.122,"y":-34},{"t":6.125,"y":125},{"t":6.128,"y":-34},{"t":6.131,"y":115},{"t":6.134,"y":-34},{"t":6.137,"y":150},{"t":6.14,"y":178.7},{"t":6.142,"y":-34},{"t":6.145,"y":105},{"t":6.148,"y":-34},{"t":6.151,"y":108},{"t":6.154,"y":-34},{"t":6.157,"y":104},{"t":6.16,"y":-34},{"t":6.163,"y":100},{"t":6.166,"y":-34},{"t":6.169,"y":98},{"t":6.172,"y":-34},{"t":6.175,"y":95},{"t":6.178,"y":-34},{"t":6.181,"y":92},{"t":6.184,"y":-34},{"t":6.187,"y":88},{"t":6.19,"y":-34},{"t":6.193,"y":80},{"t":6.196,"y":-34},{"t":6.199,"y":75},{"t":6.202,"y":-34},{"t":6.205,"y":70},{"t":6.208,"y":-30},{"t":6.211,"y":65},{"t":6.214,"y":-20},{"t":6.217,"y":60},{"t":6.22,"y":-10},{"t":6.223,"y":52},{"t":6.226,"y":-4},{"t":6.23,"y":45},{"t":6.235,"y":2},{"t":6.24,"y":38},{"t":6.25,"y":6},{"t":6.26,"y":33},{"t":6.27,"y":10},{"t":6.28,"y":29},{"t":6.29,"y":13},{"t":6.3,"y":26},{"t":6.31,"y":15},{"t":6.32,"y":25},{"t":6.33,"y":16},{"t":6.34,"y":23.5},{"t":6.35,"y":17.5},{"t":6.36,"y":22.5},{"t":6.37,"y":17.8},{"t":6.38,"y":22.3},{"t":6.39,"y":18.0},{"t":6.4,"y":22.0},{"t":6.41,"y":19.4},{"t":6.42,"y":18.1},{"t":6.43,"y":20.6},{"t":6.44,"y":21.9},{"t":6.45,"y":19.0},{"t":6.46,"y":18.0},{"t":6.47,"y":20.8},{"t":6.48,"y":22.1},{"t":6.49,"y":19.6},{"t":6.5,"y":18.4},{"t":6.51,"y":20.2},{"t":6.52,"y":21.5},{"t":6.53,"y":19.8},{"t":6.54,"y":18.3},{"t":6.55,"y":20.4},{"t":6.56,"y":21.7},{"t":6.57,"y":19.5},{"t":6.58,"y":18.7},{"t":6.59,"y":20.5},{"t":6.6,"y":21.2},{"t":6.61,"y":19.6},{"t":6.62,"y":18.5},{"t":6.63,"y":20.3},{"t":6.64,"y":21.5},{"t":6.65,"y":19.9},{"t":6.66,"y":18.9},{"t":6.67,"y":20.4},{"t":6.68,"y":21.1},{"t":6.69,"y":19.5},{"t":6.7,"y":18.7},{"t":6.71,"y":20.2},{"t":6.72,"y":21.3},{"t":6.73,"y":20.1},{"t":6.74,"y":19.1},{"t":6.75,"y":19.8},{"t":6.76,"y":20.9},{"t":6.77,"y":20.0},{"t":6.78,"y":18.9},{"t":6.79,"y":20.3},{"t":6.8,"y":21.1},{"t":6.81,"y":19.8},{"t":6.82,"y":19.2},{"t":6.83,"y":20.2},{"t":6.84,"y":20.8},{"t":6.85,"y":19.7},{"t":6.86,"y":19.0},{"t":6.87,"y":20.4},{"t":6.88,"y":21.2},{"t":6.89,"y":19.9},{"t":6.9,"y":19.3},{"t":6.91,"y":20.1},{"t":6.92,"y":20.7},{"t":6.93,"y":19.6},{"t":6.94,"y":19.1},{"t":6.95,"y":20.2},{"t":6.96,"y":20.9},{"t":6.97,"y":19.8},{"t":6.98,"y":19.4},{"t":6.99,"y":20.4},{"t":7,"y":20.3}],
"wm":[{"x":2.024,"y":15.3,"s":"INGV - Osservatorio Vesuviano"},{"x":2.976,"y":49.1,"s":"INGV - Osservatorio Vesuviano"},{"x":3.928,"y":83.0,"s":"INGV - Osservatorio Vesuviano"},{"x":4.88,"y":116.9,"s":"INGV - Osservatorio Vesuviano"},{"x":5.832,"y":150.7,"s":"INGV - Osservatorio Vesuviano"},{"x":6.784,"y":184.1,"s":"INGV - Osservatorio Vesuviano"},{"x":7.736,"y":218.0,"s":"INGV - Osservatorio Vesuviano"},{"x":8.688,"y":251.9,"s":"INGV - Osservatorio Vesuviano"}],
"dc":[{"v":"DC","r":-3.9},{"v":"5306","r":0},{"v":"5790","r":10},{"v":"5889","r":20}]
},
"layer":[
{"data":{"values":[{}]},
 "mark":{"type":"rect","clip":false,"stroke":null,"fill":{"gradient":"linear","x1":0,"y1":0,"x2":1,"y2":0,"stops":[{"offset":0,"color":"#2b8bcc"},{"offset":0.5,"color":"#3a9ad8"},{"offset":0.6,"color":"#5aa9df"},{"offset":0.75,"color":"#98c3e8"},{"offset":0.88,"color":"#d2e3f3"},{"offset":1,"color":"#f5f8fc"}]}},
 "encoding":{"x":{"datum":-0.41,"type":"quantitative","scale":{"domain":[0,10],"nice":false,"zero":false},"axis":null},"x2":{"datum":10.645},
  "y":{"datum":-31.3,"type":"quantitative","scale":{"domain":[-4.714,234.43],"reverse":true,"nice":false,"zero":false},"axis":null},"y2":{"datum":-24.43}}},
{"data":{"values":[{}]},
 "mark":{"type":"text","clip":false,"text":"OSSERVATORIO VESUVIANO","font":"Liberation Sans Narrow, DejaVu Sans Condensed, sans-serif","fontWeight":"bold","fontSize":13.2,"color":"#1e2f6e","align":"left","baseline":"middle"},
 "encoding":{"x":{"datum":-0.1945,"type":"quantitative","scale":{"domain":[0,10],"nice":false,"zero":false},"axis":null},
  "y":{"datum":-28.07,"type":"quantitative","scale":{"domain":[-4.714,234.43],"reverse":true,"nice":false,"zero":false},"axis":null}}},
{"data":{"values":[{}]},
 "mark":{"type":"text","clip":false,"text":"Sezione di Napoli","font":"Liberation Sans Narrow, DejaVu Sans Condensed, sans-serif","fontWeight":"bold","fontSize":6.5,"color":"#1e2f6e","align":"left","baseline":"middle"},
 "encoding":{"x":{"datum":1.771,"type":"quantitative","scale":{"domain":[0,10],"nice":false,"zero":false},"axis":null},
  "y":{"datum":-28.3,"type":"quantitative","scale":{"domain":[-4.714,234.43],"reverse":true,"nice":false,"zero":false},"axis":null}}},
{"data":{"values":[{}]},
 "mark":{"type":"text","clip":false,"text":"INGV","font":"Liberation Sans Narrow, DejaVu Sans Condensed, sans-serif","fontWeight":"bold","fontSize":5.5,"color":"#1e2f6e","align":"left","baseline":"middle"},
 "encoding":{"x":{"datum":-0.379,"type":"quantitative","scale":{"domain":[0,10],"nice":false,"zero":false},"axis":null},
  "y":{"datum":-25.71,"type":"quantitative","scale":{"domain":[-4.714,234.43],"reverse":true,"nice":false,"zero":false},"axis":null}}},
{"data":{"values":[{}]},
 "mark":{"type":"point","clip":false,"filled":true,"size":30,"color":"#c8a42a","opacity":1},
 "encoding":{"x":{"datum":-0.317,"type":"quantitative","scale":{"domain":[0,10],"nice":false,"zero":false},"axis":null},
  "y":{"datum":-29.36,"type":"quantitative","scale":{"domain":[-4.714,234.43],"reverse":true,"nice":false,"zero":false},"axis":null}}},
{"data":{"name":"wm"},
 "mark":{"type":"text","clip":true,"angle":320,"font":"Liberation Sans, Arial, sans-serif","fontWeight":"bold","fontSize":46,"color":"#000000","opacity":0.15,"align":"center","baseline":"middle"},
 "encoding":{"x":{"field":"x","type":"quantitative","scale":{"domain":[0,10],"nice":false,"zero":false},
   "axis":{"orient":"top","values":[1,2,3,4,5,6,7,8,9,10],"grid":true,"gridColor":"#8c8c8c","gridWidth":1,"gridOpacity":1,"labels":false,"ticks":false,"domain":true,"domainColor":"#000000","domainWidth":1,"title":null}},
  "y":{"field":"y","type":"quantitative","scale":{"domain":[-4.714,234.43],"reverse":true,"nice":false,"zero":false},
   "axis":{"orient":"right","values":[0,60,120,180],"labelExpr":"['20:10','21:10','22:10','23:10'][round(datum.value/60)]","labelFont":"DejaVu Sans Mono","labelFontSize":8.5,"labelFontWeight":"bold","labelColor":"#000000","labelAlign":"left","labelBaseline":"middle","labelPadding":3,"ticks":false,"tickSize":0,"grid":false,"domain":true,"domainColor":"#000000","domainWidth":1,"labelFlush":false,"labelOverlap":false,"labelBound":false,"title":"UTC","titleAngle":0,"titleX":11,"titleY":3,"titleAlign":"left","titleBaseline":"middle","titleFont":"DejaVu Sans Mono","titleFontSize":9,"titleFontWeight":"normal","titleColor":"#000000"}},
  "text":{"field":"s"}}},
{"data":{"name":"k"},
 "mark":{"type":"line","clip":false,"color":"#000000","strokeWidth":1},
 "encoding":{"x":{"field":"t","type":"quantitative","scale":{"domain":[0,10],"nice":false,"zero":false},
   "axis":{"orient":"bottom","values":[0,0.1667,0.3333,0.5,0.6667,0.8333,1,1.1667,1.3333,1.5,1.6667,1.8333,2,2.1667,2.3333,2.5,2.6667,2.8333,3,3.1667,3.3333,3.5,3.6667,3.8333,4,4.1667,4.3333,4.5,4.6667,4.8333,5,5.1667,5.3333,5.5,5.6667,5.8333,6,6.1667,6.3333,6.5,6.6667,6.8333,7,7.1667,7.3333,7.5,7.6667,7.8333,8,8.1667,8.3333,8.5,8.6667,8.8333,9,9.1667,9.3333,9.5,9.6667,9.8333,10],
    "labelExpr":"abs(datum.value-round(datum.value))<0.01 ? (round(datum.value)<10?'0':'')+round(datum.value) : ''",
    "labelFont":"Liberation Sans Narrow, DejaVu Sans Condensed, sans-serif","labelFontSize":10,"labelFontWeight":"bold","labelColor":"#000000","labelPadding":1,"ticks":true,"tickSize":6,"tickColor":"#333333","tickWidth":1,"grid":false,"domain":true,"domainColor":"#9a9a9a","domainWidth":2,"labelFlush":false,"labelOverlap":false,"labelBound":false,
    "title":"TIME (MINUTES)","titleX":498,"titleY":23.5,"titleAlign":"center","titleBaseline":"alphabetic","titleFont":"DejaVu Sans Mono","titleFontSize":9,"titleFontWeight":"bold","titleColor":"#000000"}},
  "y":{"field":"y","type":"quantitative","scale":{"domain":[-4.714,234.43],"reverse":true,"nice":false,"zero":false},
   "axis":{"orient":"left","values":[0,60,120,180],"labelExpr":"['20:00','21:00','22:00','23:00'][round(datum.value/60)]","labelFont":"DejaVu Sans Mono","labelFontSize":8.5,"labelFontWeight":"bold","labelColor":"#000000","labelAlign":"right","labelBaseline":"middle","labelPadding":3,"ticks":false,"tickSize":0,"grid":false,"domain":true,"domainColor":"#c4c4c4","domainWidth":2,"labelFlush":false,"labelOverlap":false,"labelBound":false,"title":"UTC","titleAngle":0,"titleX":-40,"titleY":3,"titleAlign":"left","titleBaseline":"middle","titleFont":"DejaVu Sans Mono","titleFontSize":9,"titleFontWeight":"normal","titleColor":"#000000"}}}},
{"data":{"name":"r"},
 "mark":{"type":"line","clip":false,"color":"#e00000","strokeWidth":1},
 "encoding":{"x":{"field":"t","type":"quantitative","scale":{"domain":[0,10],"nice":false,"zero":false},"axis":null},
  "y":{"field":"y","type":"quantitative","scale":{"domain":[-4.714,234.43],"reverse":true,"nice":false,"zero":false},"axis":null}}},
{"data":{"name":"b"},
 "mark":{"type":"line","clip":false,"color":"#0000e6","strokeWidth":1},
 "encoding":{"x":{"field":"t","type":"quantitative","scale":{"domain":[0,10],"nice":false,"zero":false},"axis":null},
  "y":{"field":"y","type":"quantitative","scale":{"domain":[-4.714,234.43],"reverse":true,"nice":false,"zero":false},"axis":null}}},
{"data":{"name":"dc"},
 "mark":{"type":"text","clip":false,"font":"DejaVu Sans Mono","fontSize":6.5,"color":"#333333","align":"left","baseline":"middle","dx":43},
 "encoding":{"x":{"datum":10,"type":"quantitative","scale":{"domain":[0,10],"nice":false,"zero":false},"axis":null},
  "y":{"field":"r","type":"quantitative","scale":{"domain":[-4.714,234.43],"reverse":true,"nice":false,"zero":false},"axis":null},
  "text":{"field":"v"}}},
{"data":{"values":[{}]},
 "mark":{"type":"text","clip":false,"text":["Apr24,2025","CFMN HHZ IV","(Campi Monte Nuovo  - Gain 0,002)"],"lineHeight":10.9,"font":"DejaVu Sans Mono","fontWeight":"bold","fontSize":9,"color":"#000000","align":"left","baseline":"middle"},
 "encoding":{"x":{"datum":0,"type":"quantitative","scale":{"domain":[0,10],"nice":false,"zero":false},"axis":null},
  "y":{"datum":-17.7,"type":"quantitative","scale":{"domain":[-4.714,234.43],"reverse":true,"nice":false,"zero":false},"axis":null}}},
{"data":{"values":[{}]},
 "mark":{"type":"text","clip":false,"text":"Each Vertical Division =   66.67 microvolts","font":"DejaVu Sans Mono","fontSize":6.5,"color":"#222222","align":"left","baseline":"top"},
 "encoding":{"x":{"datum":-0.256,"type":"quantitative","scale":{"domain":[0,10],"nice":false,"zero":false},"axis":null},
  "y":{"datum":242.57,"type":"quantitative","scale":{"domain":[-4.714,234.43],"reverse":true,"nice":false,"zero":false},"axis":null}}},
{"data":{"values":[{}]},
 "mark":{"type":"rule","clip":false,"color":"#555555","strokeWidth":1.5},
 "encoding":{"x":{"datum":-0.4045,"type":"quantitative","scale":{"domain":[0,10],"nice":false,"zero":false},"axis":null},
  "y":{"datum":-23,"type":"quantitative","scale":{"domain":[-4.714,234.43],"reverse":true,"nice":false,"zero":false},"axis":null},"y2":{"datum":244.3}}}
]
}
